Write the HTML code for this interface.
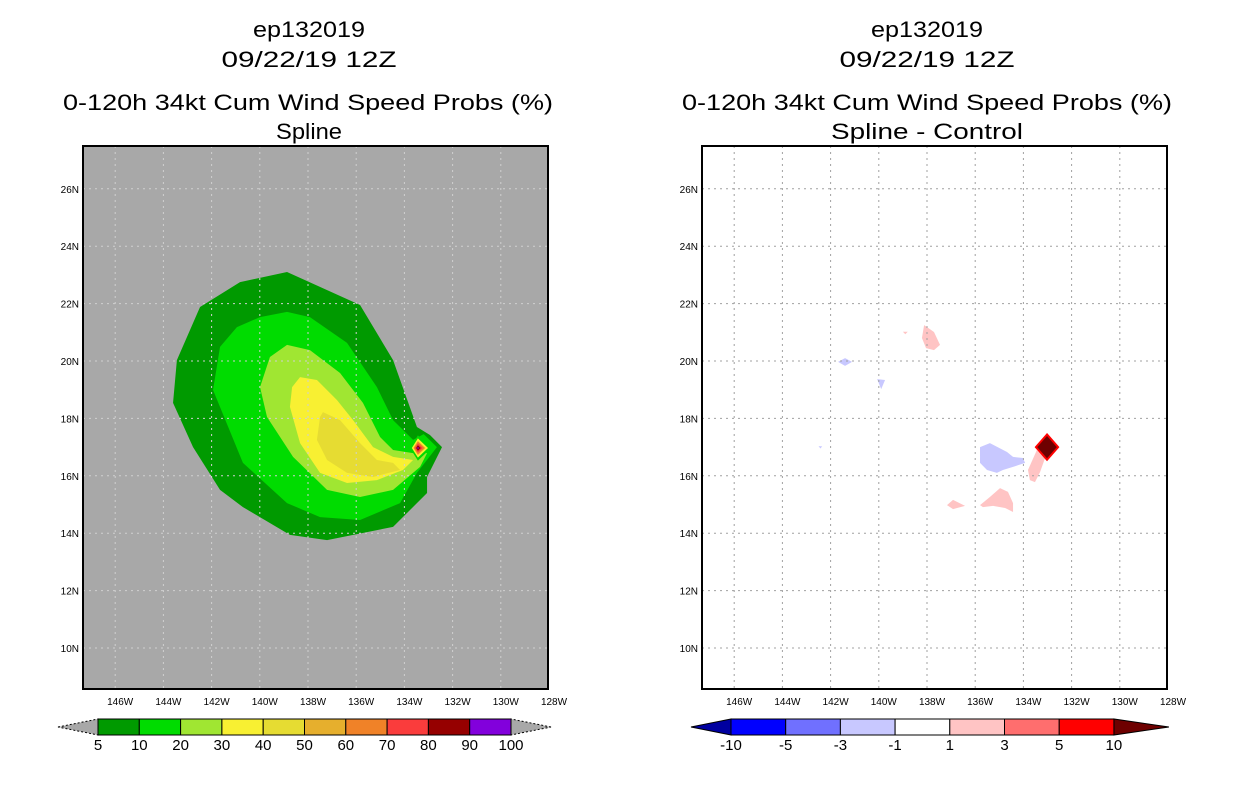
<!DOCTYPE html>
<html><head><meta charset="utf-8"><style>
body{margin:0;background:#fff;}
svg{display:block;font-family:"Liberation Sans",sans-serif;}
</style></head><body>
<svg id="s" width="1236" height="800" viewBox="0 0 1236 800">
<g id="titles" font-size="22">
<text x="309" y="37" text-anchor="middle" textLength="112" lengthAdjust="spacingAndGlyphs">ep132019</text>
<text x="309" y="67" text-anchor="middle" textLength="175" lengthAdjust="spacingAndGlyphs">09/22/19 12Z</text>
<text x="308" y="110" text-anchor="middle" textLength="490" lengthAdjust="spacingAndGlyphs">0-120h 34kt Cum Wind Speed Probs (%)</text>
<text x="309" y="139" text-anchor="middle" textLength="66" lengthAdjust="spacingAndGlyphs">Spline</text>
<text x="927" y="37" text-anchor="middle" textLength="112" lengthAdjust="spacingAndGlyphs">ep132019</text>
<text x="927" y="67" text-anchor="middle" textLength="175" lengthAdjust="spacingAndGlyphs">09/22/19 12Z</text>
<text x="927" y="110" text-anchor="middle" textLength="490" lengthAdjust="spacingAndGlyphs">0-120h 34kt Cum Wind Speed Probs (%)</text>
<text x="927" y="139" text-anchor="middle" textLength="192" lengthAdjust="spacingAndGlyphs">Spline - Control</text>
</g>
</svg>
<script>
const lonTicks=[146,144,142,140,138,136,134,132,130,128];
const latTicks=[10,12,14,16,18,20,22,24,26];
// left panel probability contours [lonW, latN]
const c5=[[138.87,23.10],[135.84,21.95],[134.47,20.03],[133.48,17.70],[132.94,17.42],[132.44,17.00],[133.06,15.96],[133.06,15.40],[134.47,14.22],[137.21,13.76],[138.75,13.94],[140.70,14.91],[141.65,15.51],[142.77,17.00],[143.60,18.54],[143.44,20.03],[142.48,21.88],[140.82,22.75]];
const c10=[[138.87,21.71],[137.92,21.53],[136.38,20.63],[135.14,19.09],[134.47,17.94],[133.64,17.25],[133.2,17.45],[132.65,17.00],[133.48,16.10],[134.18,15.05],[135.84,14.46],[137.50,14.56],[138.87,15.05],[140.70,16.45],[141.94,18.99],[141.65,20.49],[140.95,21.18],[139.99,21.53]];
const c20=[[138.87,20.56],[137.92,20.38],[136.67,19.58],[135.72,18.54],[135.01,17.35],[134.47,16.90],[133.64,16.79],[133.06,16.79],[133.35,16.31],[134.47,15.51],[135.84,15.26],[137.21,15.51],[138.62,16.66],[139.70,18.05],[139.99,19.09],[139.58,20.14]];
const c30=[[138.33,19.44],[137.63,19.34],[136.80,18.64],[136.13,17.94],[135.30,17.00],[134.47,16.66],[133.64,16.55],[134.06,16.20],[135.14,15.85],[136.38,15.75],[137.50,16.10],[138.33,17.14],[138.75,18.40],[138.66,19.09]];
const c40=[[137.38,18.22],[136.67,17.94],[135.84,17.14],[135.14,16.55],[134.47,16.45],[134.18,16.20],[135.30,15.96],[136.38,16.10],[137.21,16.55],[137.63,17.25],[137.50,18.05]];
const stormCenter=[133.44,16.97];
const stormRings=[0.55,0.42,0.3,0.2,0.12,0.05];
// right panel difference blobs
const diffDiamond=[133.02,17.00,0.46,0.44];
const blueBlobs=[
 [[135.39,17.14],[134.68,16.83],[134.43,16.66],[134.02,16.62],[133.93,16.45],[134.43,16.31],[134.85,16.20],[135.10,16.10],[135.51,16.20],[135.80,16.45],[135.80,17.00]],
 [[141.69,19.97],[141.40,20.10],[141.11,19.97],[141.40,19.83]],
 [[140.07,19.37],[139.74,19.34],[139.90,19.02]],
 [[142.5,17.03],[142.35,17.03],[142.42,16.95]]];
const pinkBlobs=[
 [[133.44,16.90],[133.10,16.62],[133.31,16.13],[133.52,15.78],[133.73,15.85],[133.81,16.20]],
 [[135.80,14.98],[135.39,15.26],[134.97,15.57],[134.64,15.44],[134.43,15.05],[134.43,14.74],[134.76,14.88],[135.26,14.95],[135.68,14.91]],
 [[137.17,14.98],[136.92,15.16],[136.42,14.95],[136.92,14.84]],
 [[138.12,21.25],[137.71,21.01],[137.46,20.56],[137.71,20.38],[138.04,20.45],[138.21,20.80]],
 [[139.0,21.02],[138.8,21.02],[138.9,20.93]]];
const leftLabels=["5","10","20","30","40","50","60","70","80","90","100"];
const leftColors=["#009a00","#00dc00","#a0e632","#f8f032","#e6dc32","#e6af2d","#f08228","#fa3c3c","#960000","#8200dc"];
const rightLabels=["-10","-5","-3","-1","1","3","5","10"];
const rightColors=["#0000ff","#7070ff","#c8c8ff","#ffffff","#ffc4c4","#ff6e6e","#ff0000"];

const NS="http://www.w3.org/2000/svg";
const svg=document.getElementById('s');
const X0=83,Y0=146,W=465,H=543;
const xs=(lon,off)=>off+549-(lon-128)*24.1;
const ys=lat=>361-(lat-20)*28.7;
function mk(t,a,p){const e=document.createElementNS(NS,t);for(const k in a)e.setAttribute(k,a[k]);(p||svg).appendChild(e);return e;}
function poly(pts,off,fill,name,stroke){
 const e=mk('polygon',{points:pts.map(p=>xs(p[0],off)+','+ys(p[1])).join(' '),fill:fill,stroke:stroke||'none'});
 
 
 return e;}
function panel(off,bg,name){
 const r=mk('rect',{x:X0+off,y:Y0,width:W,height:H,fill:bg});
 
 
}
function grid(off,gridCol,name){
 lonTicks.forEach(l=>{const x=xs(l,off);
  if(l>128){const g=mk('line',{x1:x,x2:x,y1:Y0,y2:Y0+H,stroke:gridCol,'stroke-dasharray':'2,4','stroke-width':1});
  
  }
  const t=mk('text',{x:x+5,y:Y0+H+16,'font-size':10,'text-anchor':'middle'});t.textContent=l+'W';
  
  });
 latTicks.forEach(l=>{const y=ys(l);
  const g=mk('line',{x1:X0+off,x2:X0+off+W,y1:y,y2:y,stroke:gridCol,'stroke-dasharray':'2,4','stroke-width':1});
  
  
  const t=mk('text',{x:X0+off-4,y:y+4,'font-size':10,'text-anchor':'end'});t.textContent=l+'N';
  
  });
 const b=mk('rect',{x:X0+off,y:Y0,width:W,height:H,fill:'none',stroke:'#000','stroke-width':2});
 
 
}
panel(0,'#a8a8a8','left');
poly(c5,0,leftColors[0],'contour-5');
poly(c10,0,leftColors[1],'contour-10');
poly(c20,0,leftColors[2],'contour-20');
poly(c30,0,leftColors[3],'contour-30');
poly(c40,0,leftColors[4],'contour-40');
const ringCols=[leftColors[1],leftColors[3],leftColors[6],leftColors[7],leftColors[8],leftColors[9]];
stormRings.forEach((r,i)=>{const [lo,la]=stormCenter;
 poly([[lo,la+r*0.8],[lo-r,la],[lo,la-r*0.8],[lo+r*0.6,la]],0,ringCols[i],'storm-peak-ring');});
grid(0,'#d0d0d0','left');
panel(619,'#ffffff','right');
blueBlobs.forEach(b=>poly(b,619,'#c8c8ff','negative-diff-area'));
pinkBlobs.forEach(b=>poly(b,619,'#ffc4c4','positive-diff-area'));
{const [lo,la,dl,dt]=diffDiamond;
 poly([[lo,la+dt],[lo-dl,la],[lo,la-dt],[lo+dl,la]],619,'#6e0000','max-diff-diamond','#ff0000').setAttribute('stroke-width','2');}
grid(619,'#a0a0a0','right');
function cbar(x0,segW,cols,labels,leftTri,rightTri,name){
 const y=719,h=16;
 const lt=mk('polygon',{points:`${x0-40},${y+h/2} ${x0},${y} ${x0},${y+h}`,fill:leftTri,stroke:'#000','stroke-dasharray':leftTri=='#a8a8a8'?'2,2':'none'});
 
 
 const xe=x0+segW*cols.length;
 const rt=mk('polygon',{points:`${xe+40+(name=='right'?15:0)},${y+h/2} ${xe},${y} ${xe},${y+h}`,fill:rightTri,stroke:'#000','stroke-dasharray':rightTri=='#a8a8a8'?'2,2':'none'});
 
 
 cols.forEach((c,i)=>{const r=mk('rect',{x:x0+i*segW,y:y,width:segW,height:h,fill:c,stroke:'#000'});
  
  });
 labels.forEach((l,i)=>{const t=mk('text',{x:x0+i*segW,y:750,'font-size':15,'text-anchor':'middle'});t.textContent=l;
  
  });
}
cbar(98,41.3,leftColors,leftLabels,'#a8a8a8','#a8a8a8','left');
cbar(731,54.7,rightColors,rightLabels,'#0000a0','#6e0000','right');
</script>
</body></html>
